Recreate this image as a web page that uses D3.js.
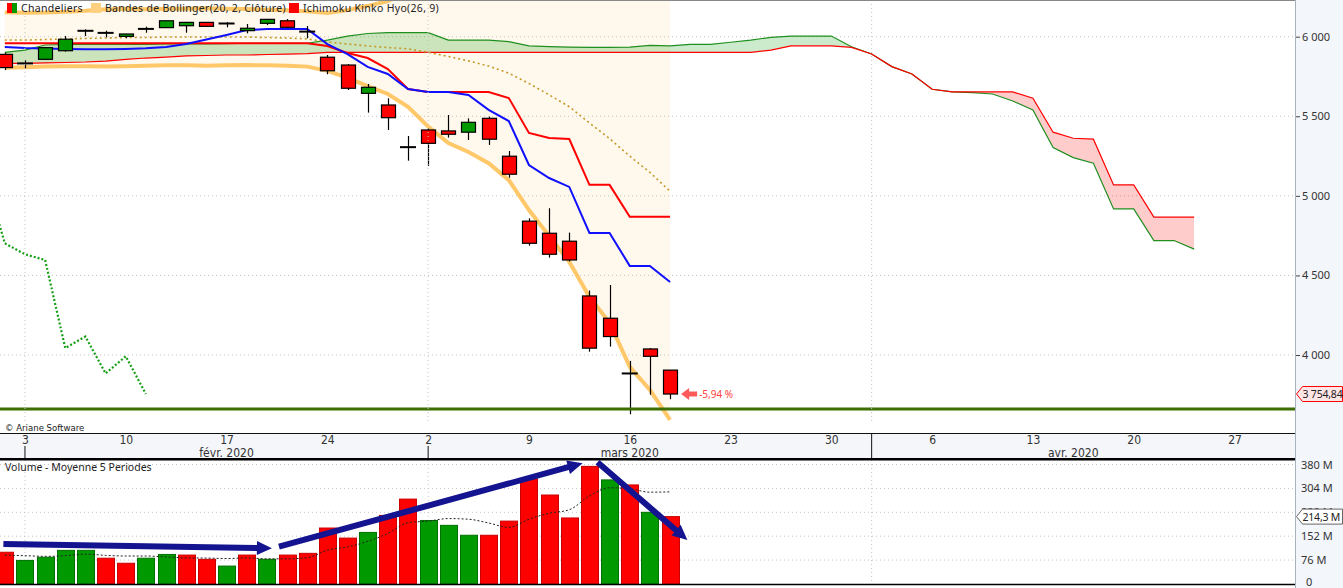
<!DOCTYPE html>
<html>
<head>
<meta charset="utf-8">
<script src="https://cdn.jsdelivr.net/npm/d3@7"></script>
<style>
  body { margin: 0; background: #fff; overflow: hidden; }
  svg { display: block; }
  text { font-family: "Noto Sans", "Open Sans", sans-serif; fill: #222; }
  .cond { font-family: "Liberation Sans Narrow", "DejaVu Sans Condensed", "Liberation Sans", sans-serif; font-stretch: condensed; }
</style>
</head>
<body>
<script>
// CAC 40 daily, 31 Jan -> 18 Mar 2020
var dates = ['31/01','03/02','04/02','05/02','06/02','07/02','10/02','11/02','12/02','13/02','14/02',
    '17/02','18/02','19/02','20/02','21/02','24/02','25/02','26/02','27/02','28/02',
    '02/03','03/03','04/03','05/03','06/03','09/03','10/03','11/03','12/03','13/03','16/03','17/03','18/03'];
var opens  = [5889,5829,5858,5912,6035,6026,6002,6047,6057,6069,6090,6081,6038,6084,6100,6030,5871,5822,5644,5571,5303,
              5414,5408,5400,5487,5249,4841,4765,4715,4371,4231,3882,4038,3905];
var highs  = [5900,5854,5935,6004,6046,6038,6017,6063,6100,6093,6092,6092,6080,6110,6111,6067,5885,5828,5703,5613,5376,
              5425,5508,5487,5498,5282,4859,4922,4769,4405,4440,3963,4043,3905];
var lows   = [5790,5801,5855,5906,6004,5996,5990,6025,6057,6025,6062,6059,6021,6073,6057,5990,5764,5665,5523,5414,5221,
              5188,5366,5351,5320,5114,4687,4612,4588,4021,4053,3628,3750,3722];
var closes = [5806,5832,5931,5984,6037,6024,6017,6049,6100,6090,6065,6083,6053,6109,6059,6032,5786,5676,5682,5491,5306,
              5330,5387,5462,5356,5136,4702,4633,4597,4043,4116,3884,3991.78,3754.84];
// volume (millions) and its 5 period average
var volumes = [101,75,85,107,107,82,66,82,94,92,78.5,57,92,78.5,92,97.5,178,146,164,218,270,
               202,186.5,155,155,200,334,283,210,374,331,315,228,214.3];
var volAvg5 = [92,90,88,90,95,91,89,89,86,83,82.5,81,83,80,80,83.4,107.6,118,135.5,160.7,195,
               200,208,206,194,180,206,225,236,280,306,303,292,293];

// Bollinger (20, 2)
var bbUpper  = [6153,6150,6152,6157,6163,6172,6175,6172,6176,6176,6178,6176,6174,6170,6166,6160,6149,6167,6194,6224,6288,
                6369,6420,6420,6427,6443,6501,6522,6535,6551,6518,6575,6513,6466];
var bbMiddle = [5979,5979,5982,5986,5989,5992,5995,5995,5998,5998,5998,5998,5998,5995,5992,5986,5967,5954,5942,5932,5924,
                5902,5876,5848,5816,5771,5706,5635,5560,5458,5360,5250,5147,5029];
var bbLower  = [5805,5808,5812,5815,5815,5812,5815,5818,5820,5820,5818,5820,5822,5820,5818,5812,5785,5741,5690,5640,5560,
                5435,5332,5276,5205,5099,4911,4748,4585,4365,4202,3925,3781,3592];

// Ichimoku (26, 9)
var tenkan = [5935,5929,5926,5923,5921,5921,5923,5927,5935,5954,5982,6011,6042,6048,6048,6048,5954,5891,5810,5766,5671,
              5653,5653,5634,5540,5470,5194,5112,5056,4767,4767,4560,4560,4459];
var kijun  = [5959,5959,5959,5959,5959,5959,5959,5959,5959,5959,5959,5959,5959,5959,5959,5959,5942,5898,5866,5797,5671,
              5653,5653,5653,5653,5615,5395,5364,5357,5069,5069,4868,4868,4868];
var senkouA = [5901,5916,5948,5951,5951,5951,5951,5952,5954,5954,5954,5957,5959,5959,5959,5959,5979,6004,6020,6025,6025,
               6025,5979,5979,5979,5969,5942,5938,5935,5933,5933,5935,5945,5942,5952,5952,5965,5979,5996,6004,6004,
               6004,5937,5891,5812,5766,5670,5653,5648,5640,5596,5540,5303,5240,5205,4918,4918,4719,4719,4665];
var senkouB = [5833,5833,5835,5838,5841,5847,5857,5866,5872,5879,5882,5885,5885,5888,5891,5894,5901,5902,5902,5902,5902,
               5902,5902,5902,5902,5902,5902,5902,5902,5902,5902,5902,5902,5902,5902,5902,5902,5902,5916,5942,5942,
               5942,5933,5891,5812,5766,5670,5653,5653,5653,5653,5613,5400,5362,5356,5069,5069,4866,4866,4866];
var chikouShift = 26;

var supportLevel = 3661;

// axes
var priceTicks = [4000, 4500, 5000, 5500, 6000];
var volTicks = [0, 76, 152, 228, 304, 380];
var weekLabels = ['3','10','17','24','2','9','16','23','30','6','13','20','27'];
var firstMonday = 1;
var monthLabels = ['févr. 2020', 'mars 2020', 'avr. 2020'];
var monthLabelDay = [11, 31, 53];
var monthStartDay = [1, 21, 43];

// volume annotations: [day, volume] from -> to
var volArrows = [
    [[-0.07, 127], [13.25, 113.5]],
    [[13.6, 118.6], [28.66, 384]],
    [[29.4, 387], [33.86, 140]]
];

//////////////////////////////////////////

var W = 1343, H = 588,
    plotW = 1295,
    priceBottom = 424,
    axisTop = 433, axisBottom = 458,
    volTop = 460, volBottom = 584;

var fr = d3.formatLocale( { decimal: ',', thousands: '\u00a0', grouping: [ 3 ], currency: [ '', '' ], minus: '-' } );

var svg = d3.select( 'body' ).append( 'svg' )
    .attr( 'width', W )
    .attr( 'height', H );

var x = d3.scaleLinear().domain( [ 0, 64 ] ).range( [ 4.8, plotW ] ),
    yP = d3.scaleLinear().domain( [ 4000, 6000 ] ).range( [ 355, 36.7 ] ),
    yV = d3.scaleLinear().domain( [ 0, 380 ] ).range( [ volBottom, 464.5 ] );

var defs = svg.append( 'defs' );
defs.append( 'clipPath' ).attr( 'id', 'clipP' )
    .append( 'rect' ).attr( 'x', 0 ).attr( 'y', 0 ).attr( 'width', plotW ).attr( 'height', priceBottom );
defs.append( 'clipPath' ).attr( 'id', 'clipV' )
    .append( 'rect' ).attr( 'x', 0 ).attr( 'y', volTop ).attr( 'width', plotW ).attr( 'height', volBottom - volTop );

// right axis background
svg.append( 'rect' ).attr( 'x', plotW ).attr( 'y', 0 ).attr( 'width', W - plotW ).attr( 'height', H ).attr( 'fill', '#f3f6fb' );

var price = svg.append( 'g' ).attr( 'clip-path', 'url(#clipP)' );

// Bollinger band fill
price.append( 'path' )
    .datum( d3.range( bbLower.length ) )
    .attr( 'd', d3.area().x( i => x( i ) ).y0( i => yP( bbLower[ i ] ) ).y1( i => yP( bbUpper[ i ] ) ) )
    .attr( 'fill', '#fff8ec' );

// grid
price.selectAll( '.hg' ).data( priceTicks ).enter().append( 'line' )
    .attr( 'x1', 0 ).attr( 'x2', plotW )
    .attr( 'y1', d => yP( d ) ).attr( 'y2', d => yP( d ) )
    .attr( 'stroke', '#c4c4c4' ).attr( 'stroke-dasharray', '1,3' );
[ [ 0, priceBottom ], [ volTop, volBottom ] ].forEach( r => {
    svg.selectAll( null ).data( monthStartDay ).enter().append( 'line' )
        .attr( 'x1', d => x( d ) ).attr( 'x2', d => x( d ) )
        .attr( 'y1', r[ 0 ] ).attr( 'y2', r[ 1 ] )
        .attr( 'stroke', '#c4c4c4' ).attr( 'stroke-dasharray', '1,3' );
} );

// Ichimoku cloud
var cloudIdx = d3.range( senkouA.length );
defs.append( 'clipPath' ).attr( 'id', 'aboveB' ).append( 'path' )
    .attr( 'd', d3.area().x( i => x( i ) ).y0( 0 ).y1( i => yP( senkouB[ i ] ) )( cloudIdx ) );
defs.append( 'clipPath' ).attr( 'id', 'belowB' ).append( 'path' )
    .attr( 'd', d3.area().x( i => x( i ) ).y0( priceBottom ).y1( i => yP( senkouB[ i ] ) )( cloudIdx ) );
var between = d3.area().x( i => x( i ) ).y0( i => yP( senkouB[ i ] ) ).y1( i => yP( senkouA[ i ] ) );
price.append( 'path' ).datum( cloudIdx ).attr( 'd', between )
    .attr( 'fill', 'rgba(0,150,0,0.2)' ).attr( 'clip-path', 'url(#aboveB)' );
price.append( 'path' ).datum( cloudIdx ).attr( 'd', between )
    .attr( 'fill', 'rgba(255,0,0,0.2)' ).attr( 'clip-path', 'url(#belowB)' );

function drawLine( g, arr, attrs, offset ){
    offset = offset || 0;
    var p = g.append( 'path' )
        .datum( arr )
        .attr( 'd', d3.line().x( ( d, i ) => x( i + offset ) ).y( d => yP( d ) ) )
        .attr( 'fill', 'none' );
    Object.keys( attrs ).forEach( k => p.attr( k, attrs[ k ] ) );
    return p;
}

drawLine( price, senkouA, { stroke: '#1f8f1f', 'stroke-width': 1.2 } );
drawLine( price, senkouB, { stroke: '#ff0000', 'stroke-width': 1.2 } );

// Bollinger lines
drawLine( price, bbUpper, { stroke: 'rgba(255,190,80,0.85)', 'stroke-width': 4 } );
drawLine( price, bbLower, { stroke: 'rgba(255,190,80,0.85)', 'stroke-width': 4 } );
drawLine( price, bbMiddle, { stroke: '#c49a2a', 'stroke-width': 1.6, 'stroke-dasharray': '2,3' } );

// Kijun / Tenkan
drawLine( price, kijun, { stroke: '#ff0000', 'stroke-width': 2 } );
drawLine( price, tenkan, { stroke: '#1010ff', 'stroke-width': 2 } );

// Chikou: closes shifted back
drawLine( price, closes.slice( chikouShift - 1 ), { stroke: '#16a016', 'stroke-width': 2.2, 'stroke-dasharray': '2,2' }, -1 );

// candles
var bw = 14;
var candles = price.selectAll( '.candle' ).data( d3.range( closes.length ) ).enter().append( 'g' );
candles.append( 'line' )
    .attr( 'x1', i => Math.round( x( i ) ) + 0.5 ).attr( 'x2', i => Math.round( x( i ) ) + 0.5 )
    .attr( 'y1', i => yP( highs[ i ] ) ).attr( 'y2', i => yP( lows[ i ] ) )
    .attr( 'stroke', '#000' ).attr( 'stroke-width', 1.2 );
candles.each( function( i ){
    var g = d3.select( this ),
        o = opens[ i ], c = closes[ i ];
    if ( Math.abs( o - c ) < 6 ) {
        g.append( 'line' )
            .attr( 'x1', x( i ) - bw / 2 - 1 ).attr( 'x2', x( i ) + bw / 2 + 1 )
            .attr( 'y1', yP( c ) ).attr( 'y2', yP( c ) )
            .attr( 'stroke', '#000' ).attr( 'stroke-width', 2 );
    } else {
        g.append( 'rect' )
            .attr( 'x', Math.round( x( i ) - bw / 2 ) + 0.5 )
            .attr( 'y', yP( Math.max( o, c ) ) )
            .attr( 'width', bw )
            .attr( 'height', Math.abs( yP( o ) - yP( c ) ) )
            .attr( 'fill', c > o ? '#009a00' : '#ff0000' )
            .attr( 'stroke', '#000' ).attr( 'stroke-width', 1.2 );
    }
} );

// support line
price.append( 'line' )
    .attr( 'x1', 0 ).attr( 'x2', plotW )
    .attr( 'y1', yP( supportLevel ) ).attr( 'y2', yP( supportLevel ) )
    .attr( 'stroke', '#3d6f00' ).attr( 'stroke-width', 3 );

// variation annotation
var last = closes.length - 1,
    pct = ( closes[ last ] / closes[ last - 1 ] - 1 ) * 100,
    ay = yP( closes[ last ] ),
    ax = x( last + 0.55 );
svg.append( 'path' )
    .attr( 'd', 'M' + ax + ',' + ay + ' l8,-6 v3.5 h8 v5 h-8 v3.5 z' )
    .attr( 'fill', '#ff5a5a' );
svg.append( 'text' )
    .attr( 'x', ax + 18 ).attr( 'y', ay + 4 )
    .attr( 'font-size', 10 )
    .style( 'fill', '#ff4040' )
    .text( fr.format( '.2f' )( pct ) + ' %' );

// legend
var legend = [
    { t: 'Chandeliers', x: 7 },
    { t: 'Bandes de Bollinger(20, 2, Clôture)', x: 91, c: '#ffd080' },
    { t: 'Ichimoku Kinko Hyo(26, 9)', x: 289, c: '#ff0000' }
];
legend.forEach( ( l, i ) => {
    if ( i === 0 ) {
        svg.append( 'rect' ).attr( 'x', l.x ).attr( 'y', 3 ).attr( 'width', 5 ).attr( 'height', 10 ).attr( 'fill', '#ff0000' );
        svg.append( 'rect' ).attr( 'x', l.x + 5 ).attr( 'y', 3 ).attr( 'width', 5 ).attr( 'height', 10 ).attr( 'fill', '#009a00' );
    } else {
        svg.append( 'rect' ).attr( 'x', l.x ).attr( 'y', 3 ).attr( 'width', 10 ).attr( 'height', 10 ).attr( 'fill', l.c );
    }
    svg.append( 'text' ).attr( 'x', l.x + 14 ).attr( 'y', 12 ).attr( 'font-size', 10.5 )
        .attr( 'letter-spacing', 0.3 ).text( l.t );
} );

svg.append( 'text' ).attr( 'class', 'cond' ).attr( 'x', 5 ).attr( 'y', 431 ).attr( 'font-size', 9.5 ).text( '© Ariane Software' );

// price axis
var pAxis = svg.append( 'g' )
    .attr( 'transform', 'translate(' + plotW + ',0)' )
    .call( d3.axisRight( yP ).tickValues( priceTicks ).tickSize( 5 ).tickPadding( 2 ).tickFormat( fr.format( ',' ) ) );
pAxis.select( '.domain' ).remove();
pAxis.selectAll( 'line' ).attr( 'stroke', '#444' );
pAxis.selectAll( 'text' ).attr( 'font-size', 11 ).style( 'font-family', '"Noto Sans", sans-serif' ).style( 'fill', '#333' );

// value boxes on the right axis
function valueBox( yy, label, fill, stroke ){
    svg.append( 'path' )
        .attr( 'd', 'M' + ( plotW + 1.5 ) + ',' + yy + ' l6,-7.5 H' + ( W - 0.5 ) + ' v15 H' + ( plotW + 7.5 ) + ' z' )
        .attr( 'fill', fill ).attr( 'stroke', stroke ).attr( 'stroke-width', 1 );
    svg.append( 'text' ).attr( 'x', plotW + 7.5 ).attr( 'y', yy + 4 ).attr( 'font-size', 10.5 )
        .attr( 'letter-spacing', -0.2 ).text( label );
}
valueBox( yP( closes[ last ] ), fr.format( ',.2f' )( closes[ last ] ), '#ffe6e6', '#ff0000' );

// date axis
svg.append( 'rect' ).attr( 'x', 0 ).attr( 'y', axisTop ).attr( 'width', plotW ).attr( 'height', axisBottom - axisTop ).attr( 'fill', '#f4f6fa' );
svg.append( 'line' ).attr( 'x1', 0 ).attr( 'x2', plotW ).attr( 'y1', axisTop + 0.5 ).attr( 'y2', axisTop + 0.5 ).attr( 'stroke', '#111' );
var weekDays = weekLabels.map( ( d, i ) => firstMonday + i * 5 );
var dAxis = svg.append( 'g' )
    .attr( 'transform', 'translate(0,' + axisTop + ')' )
    .call( d3.axisBottom( x ).tickValues( weekDays ).tickSize( 0 ).tickPadding( 2 ).tickFormat( ( d, i ) => weekLabels[ i ] ) );
dAxis.select( '.domain' ).remove();
dAxis.selectAll( 'text' ).attr( 'class', 'cond' ).attr( 'font-size', 12 ).style( 'fill', '#333' );
monthLabels.forEach( ( m, i ) => {
    svg.append( 'text' ).attr( 'class', 'cond' ).attr( 'x', x( monthLabelDay[ i ] ) ).attr( 'y', axisBottom - 1.5 )
        .attr( 'text-anchor', 'middle' ).attr( 'font-size', 12 ).style( 'fill', '#333' ).text( m );
} );
monthStartDay.forEach( d => {
    var onLabel = ( d - firstMonday ) % 5 === 0;
    svg.append( 'line' ).attr( 'x1', x( d ) ).attr( 'x2', x( d ) )
        .attr( 'y1', onLabel ? 446 : axisTop ).attr( 'y2', axisBottom )
        .attr( 'stroke', '#111' );
} );
svg.append( 'rect' ).attr( 'x', 0 ).attr( 'y', axisBottom ).attr( 'width', plotW ).attr( 'height', 2.5 ).attr( 'fill', '#000' );

// volume panel
var vol = svg.append( 'g' ).attr( 'clip-path', 'url(#clipV)' );
vol.selectAll( '.hg' ).data( volTicks.slice( 1 ) ).enter().append( 'line' )
    .attr( 'x1', 0 ).attr( 'x2', plotW )
    .attr( 'y1', d => yV( d ) ).attr( 'y2', d => yV( d ) )
    .attr( 'stroke', '#c4c4c4' ).attr( 'stroke-dasharray', '1,3' );
var vbw = 17;
vol.selectAll( '.bar' ).data( volumes ).enter().append( 'rect' )
    .attr( 'x', ( d, i ) => Math.round( x( i ) - vbw / 2 ) + 0.5 )
    .attr( 'y', d => yV( d ) )
    .attr( 'width', vbw )
    .attr( 'height', d => yV( 0 ) - yV( d ) )
    .attr( 'fill', ( d, i ) => i > 0 && closes[ i ] >= closes[ i - 1 ] ? '#009a00' : '#ff0000' )
    .attr( 'stroke', ( d, i ) => i > 0 && closes[ i ] >= closes[ i - 1 ] ? '#007000' : '#c80000' )
    .attr( 'stroke-width', 1 );
vol.append( 'path' )
    .datum( volAvg5 )
    .attr( 'd', d3.line().x( ( d, i ) => x( i ) ).y( d => yV( d ) ).curve( d3.curveMonotoneX ) )
    .attr( 'fill', 'none' ).attr( 'stroke', '#222' ).attr( 'stroke-width', 1 ).attr( 'stroke-dasharray', '2,2' );

// trend arrows
volArrows.forEach( a => {
    var x0 = x( a[ 0 ][ 0 ] ), y0 = yV( a[ 0 ][ 1 ] ),
        x1 = x( a[ 1 ][ 0 ] ), y1 = yV( a[ 1 ][ 1 ] ),
        ang = Math.atan2( y1 - y0, x1 - x0 ) * 180 / Math.PI,
        len = Math.hypot( x1 - x0, y1 - y0 );
    svg.append( 'path' )
        .attr( 'transform', 'translate(' + x0 + ',' + y0 + ') rotate(' + ang + ')' )
        .attr( 'd', 'M0,-3 H' + ( len - 15 ) + ' V-7 L' + len + ',0 L' + ( len - 15 ) + ',7 V3 H0 Z' )
        .attr( 'fill', '#141490' );
} );

svg.append( 'text' ).attr( 'x', 5 ).attr( 'y', 471 ).attr( 'font-size', 10.5 ).text( 'Volume  - Moyenne 5 Periodes' );

svg.append( 'line' ).attr( 'x1', 0 ).attr( 'x2', plotW ).attr( 'y1', volBottom + 0.5 ).attr( 'y2', volBottom + 0.5 ).attr( 'stroke', '#000' ).attr( 'stroke-width', 1.5 );

var vAxis = svg.append( 'g' )
    .attr( 'transform', 'translate(' + plotW + ',0)' )
    .call( d3.axisRight( yV ).tickValues( volTicks ).tickSize( 0 ).tickPadding( 6 ).tickFormat( d => d + ' M' ) );
vAxis.select( '.domain' ).remove();
vAxis.selectAll( 'text' ).attr( 'font-size', 11 ).style( 'font-family', '"Noto Sans", sans-serif' ).style( 'fill', '#333' );
vAxis.selectAll( 'text' ).filter( d => d === 0 ).attr( 'dx', 5 ).attr( 'dy', '0.1em' ).text( '0' );

valueBox( yV( volumes[ last ] ), fr.format( ',.1f' )( volumes[ last ] ) + ' M', '#ffffff', '#666' );

// axis separator
svg.append( 'line' ).attr( 'x1', plotW + 0.5 ).attr( 'x2', plotW + 0.5 ).attr( 'y1', 0 ).attr( 'y2', H ).attr( 'stroke', '#a9b2bf' );
svg.append( 'line' ).attr( 'x1', 0 ).attr( 'x2', plotW ).attr( 'y1', 0.5 ).attr( 'y2', 0.5 ).attr( 'stroke', '#888' );
</script>
</body>
</html>
